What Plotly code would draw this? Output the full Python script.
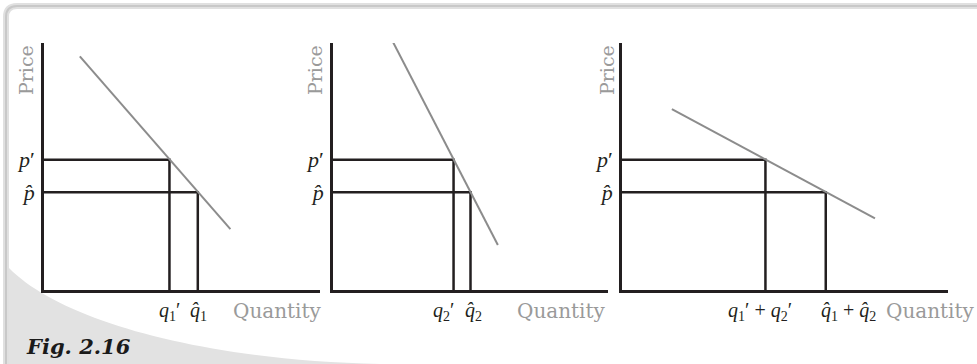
import plotly.graph_objects as go

# price levels shared by all three panels
p_prime = 4.0
p_hat = 3.0
price_ticks = ["<i>p̂</i>", "<i>p</i>′"]

# panel 1: consumer 1
demand1_x = [1.10, 5.72]
demand1_y = [7.17, 1.87]
q1 = [3.85, 4.72]          # q1', q1-hat
q1_labels = ["<i>q</i><sub>1</sub>′", "<i>q̂</i><sub>1</sub>"]

# panel 2: consumer 2
demand2_x = [1.81, 5.06]
demand2_y = [7.67, 1.38]
q2 = [3.70, 4.22]
q2_labels = ["<i>q</i><sub>2</sub>′", "<i>q̂</i><sub>2</sub>"]

# panel 3: market demand
demand3_x = [1.53, 7.76]
demand3_y = [5.55, 2.20]
q3 = [4.40, 6.25]
q3_labels = ["<i>q</i><sub>1</sub>′ + <i>q</i><sub>2</sub>′",
             "<i>q̂</i><sub>1</sub> + <i>q̂</i><sub>2</sub>"]

x_max = [8.47, 8.44, 10.0]
y_max = 7.58

W, H = 977, 364
INK = "#231f20"
GREY_TXT = "#9a9a9a"
SERIF = "DejaVu Serif"
MATH = "Liberation Serif"


def px(x):
    return x / W


def py(y):
    return 1 - y / H


def guide_lines(q_pair):
    """L-shaped guides from the price axis to the demand curve and down."""
    qp, qh = q_pair
    xs = [0, qp, qp, None, 0, qh, qh]
    ys = [p_prime, p_prime, 0, None, p_hat, p_hat, 0]
    return xs, ys


fig = go.Figure()

panels = [
    (demand1_x, demand1_y, q1, q1_labels),
    (demand2_x, demand2_y, q2, q2_labels),
    (demand3_x, demand3_y, q3, q3_labels),
]
x_domains = [[44 / W, 320 / W], [333 / W, 608 / W], [622 / W, 948 / W]]
y_domain = [py(290), py(43)]
# small nudges so the quantity labels sit where the book put them
label_shift = [[0, 1], [-10, 3], [-5, 23]]

for i, (dx, dy, qs, qlab) in enumerate(panels):
    n = "" if i == 0 else str(i + 1)
    gx, gy = guide_lines(qs)
    fig.add_trace(go.Scatter(x=gx, y=gy, mode="lines",
                             line=dict(color=INK, width=2.5),
                             xaxis="x" + n, yaxis="y" + n, hoverinfo="skip"))
    fig.add_trace(go.Scatter(x=dx, y=dy, mode="lines",
                             line=dict(color="#8c8c8c", width=2),
                             xaxis="x" + n, yaxis="y" + n, hoverinfo="skip"))

    fig.update_layout({
        "xaxis" + n: dict(domain=x_domains[i], range=[0, x_max[i]],
                          anchor="y" + n, showline=True, linecolor=INK,
                          linewidth=2.5, showgrid=False, zeroline=False,
                          showticklabels=False, ticks=""),
        "yaxis" + n: dict(domain=y_domain, range=[0, y_max],
                          anchor="x" + n, showline=True, linecolor=INK,
                          linewidth=2.5, showgrid=False, zeroline=False,
                          tickvals=[p_hat, p_prime], ticktext=price_ticks,
                          ticks="outside", ticklen=2,
                          tickcolor="rgba(0,0,0,0)",
                          tickfont=dict(family=MATH, size=22, color=INK)),
    })

    for q, lab, sh in zip(qs, qlab, label_shift[i]):
        fig.add_annotation(text=lab, x=q, y=0, xref="x" + n, yref="y" + n,
                           xanchor="center", yanchor="middle", xshift=sh,
                           yshift=-21, showarrow=False,
                           font=dict(family=MATH, size=20, color=INK))

# axis titles
price_x = [26, 315, 607]
for xc in price_x:
    fig.add_annotation(text="Price", textangle=-90, x=px(xc), y=py(43),
                       xref="paper", yref="paper", xanchor="center",
                       yanchor="top", showarrow=False,
                       font=dict(family=SERIF, size=19, color=GREY_TXT))

for xr in [324, 608]:
    fig.add_annotation(text="Quantity", x=px(xr), y=py(311), xref="paper",
                       yref="paper", xanchor="right", yanchor="middle",
                       showarrow=False,
                       font=dict(family=SERIF, size=20, color=GREY_TXT))
fig.add_annotation(text="Quantity", x=px(884), y=py(311), xref="paper",
                   yref="paper", xanchor="left", yanchor="middle",
                   showarrow=False,
                   font=dict(family=SERIF, size=20, color=GREY_TXT))

fig.add_annotation(text="<b><i>Fig. 2.16</i></b>", x=px(24), y=py(346),
                   xref="paper", yref="paper", xanchor="left",
                   yanchor="middle", showarrow=False,
                   font=dict(family=SERIF, size=21, color="#1a1a1a"))

# page frame and the grey swoosh in the bottom-left corner
swoosh = (f"M {px(9)},{py(268)} C {px(60)},{py(320)} {px(200)},{py(360)} "
          f"{px(380)},{py(364)} L {px(9)},{py(364)} Z")
frame = (f"M {px(6)},{py(364)} L {px(6)},{py(17)} "
         f"Q {px(6)},{py(6)} {px(17)},{py(6)} L {px(977)},{py(6)}")
shapes = [
    dict(type="path", path=swoosh, xref="paper", yref="paper",
         fillcolor="#e2e2e2", line=dict(width=0), layer="below"),
    dict(type="path", path=frame, xref="paper", yref="paper",
         line=dict(color="#e0e0e0", width=6), layer="below"),
    dict(type="path", path=frame, xref="paper", yref="paper",
         line=dict(color="#c8c8c8", width=2), layer="below"),
]

fig.update_layout(
    width=W, height=H,
    margin=dict(l=0, r=0, t=0, b=0),
    paper_bgcolor="white", plot_bgcolor="rgba(0,0,0,0)",
    showlegend=False,
    shapes=shapes,
)

# drop the browser's default 8px body margin so the figure sits at 0,0
fig.write_html("out.html", config={"displayModeBar": False},
               post_script="document.body.style.margin='0';"
                           "document.body.style.overflow='hidden';")
